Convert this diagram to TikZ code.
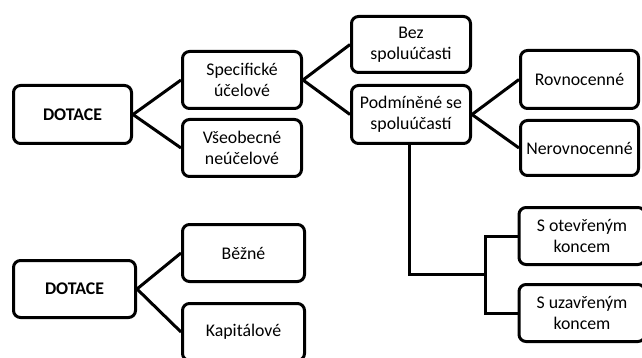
\documentclass[tikz,border=0pt]{standalone}
\usepackage{fontspec}
\setmainfont{Carlito}
\begin{document}
\begin{tikzpicture}[x=1pt,y=-1pt,
  box/.style={draw=black, line width=3pt, rounded corners=7pt, fill=white,
    align=center, inner sep=1pt, text=black,
    font=\fontsize{17.8}{20.5}\selectfont},
  boldbox/.style={box, font=\fontsize{17.8}{20.5}\selectfont\bfseries},
  conn/.style={draw=black, line width=3pt}]
\useasboundingbox (0,0) rectangle (642,358);
% top tree
\node[boldbox, minimum width=118pt, minimum height=58pt] (d1) at (72.5,114.5) {DOTACE};
\node[box, minimum width=119pt, minimum height=57pt] (spec) at (242,80) {Specifické\\účelové};
\node[box, minimum width=119pt, minimum height=57pt] (vse) at (242,148) {Všeobecné\\neúčelové};
\node[box, minimum width=119pt, minimum height=56pt] (bez) at (411,44.5) {Bez\\spoluúčasti};
\node[box, minimum width=119pt, minimum height=58pt] (pod) at (411,114.5) {Podmíněné se\\spoluúčastí};
\node[box, minimum width=118pt, minimum height=58pt] (rov) at (579.5,79.5) {Rovnocenné};
\node[box, minimum width=118pt, minimum height=55pt] (nerov) at (579.5,148) {Nerovnocenné};
\node[box, minimum width=126pt, minimum height=57pt] (sot) at (582,236) {S otevřeným\\koncem};
\node[box, minimum width=126pt, minimum height=57pt] (suz) at (582,313) {S uzavřeným\\koncem};
\coordinate (j1) at (409,274);
\coordinate (j2) at (485,274);
\coordinate (j3) at (485,236);
\coordinate (j4) at (485,313);
\draw[conn] (d1.east) -- (spec.west);
\draw[conn] (d1.east) -- (vse.west);
\draw[conn] (spec.east) -- (bez.west);
\draw[conn] (spec.east) -- (pod.west);
\draw[conn] (pod.east) -- (rov.west);
\draw[conn] (pod.east) -- (nerov.west);
\draw[conn] (pod.south -| j1) -- (j1) -- (j2);
\draw[conn] (sot.west) -- (j3) -- (j4) -- (suz.west);
% bottom tree
\node[boldbox, minimum width=122pt, minimum height=57pt] (d2) at (74.5,289) {DOTACE};
\node[box, minimum width=122pt, minimum height=57pt] (bez2) at (243.5,253) {Běžné};
\node[box, minimum width=122pt, minimum height=57pt] (kap) at (243.5,332) {Kapitálové};
\draw[conn] (d2.east) -- (bez2.west);
\draw[conn] (d2.east) -- (kap.west);
\end{tikzpicture}
\end{document}
